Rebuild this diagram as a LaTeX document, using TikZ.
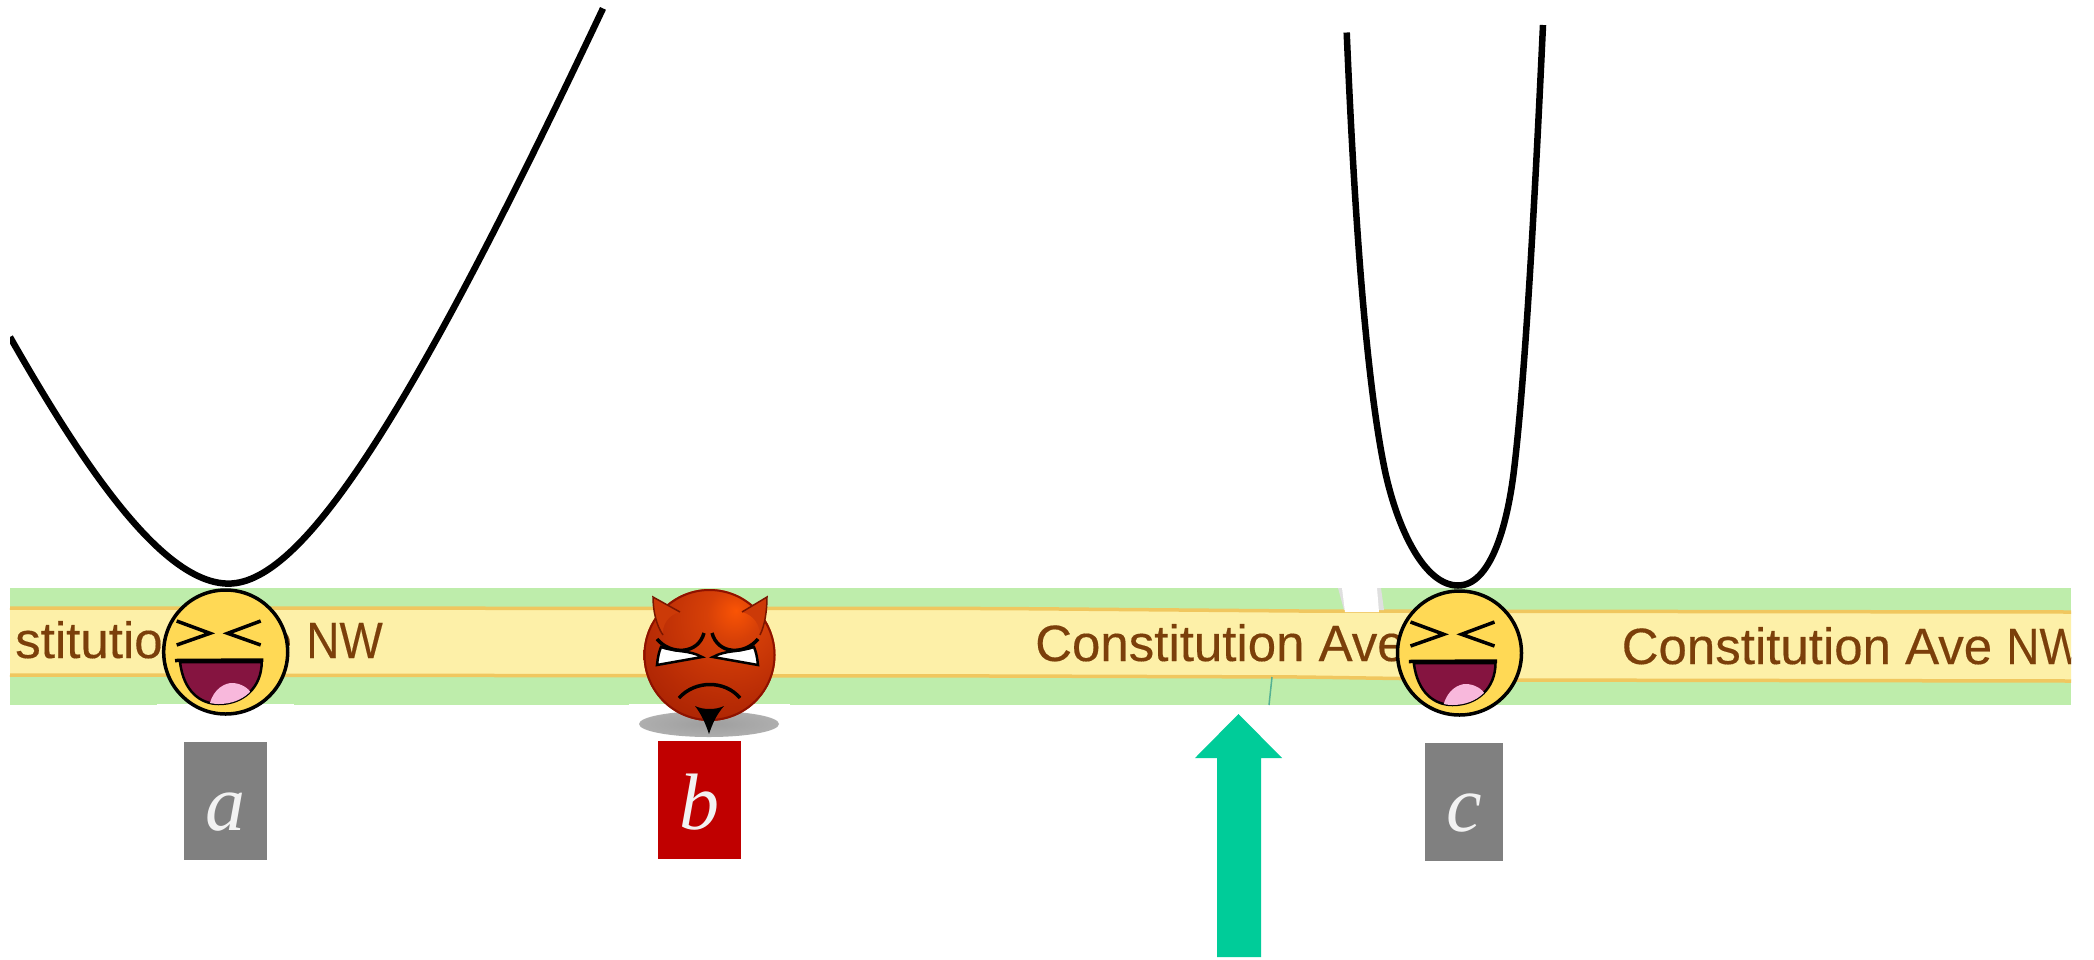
\documentclass[tikz,border=0pt]{standalone}
\usepackage{fontspec}
\setmainfont{Liberation Sans}[FakeBold=0.25]
\newfontfamily\streetfont{Liberation Sans}[FakeBold=0.3]
\newfontfamily\labelserif{Liberation Serif}
\newcommand{\narrownw}{\scalebox{0.9}[1]{NW}}
\definecolor{roadgreen}{HTML}{BEEDAB}
\definecolor{roadyellow}{HTML}{FDF0A8}
\definecolor{roadedge}{HTML}{F0C75F}
\definecolor{streettext}{HTML}{7B3F0A}
\definecolor{facegold}{HTML}{FFD955}
\definecolor{mouthred}{HTML}{851440}
\definecolor{tonguepink}{HTML}{F8B8DC}
\definecolor{arrowgreen}{HTML}{00CC99}
\definecolor{darkred}{HTML}{C00000}
\definecolor{boxgray}{HTML}{808080}
\definecolor{labelwhite}{HTML}{F2F2F2}
\definecolor{hornfill}{HTML}{CC3A08}
\definecolor{horndark}{HTML}{7A1600}
\definecolor{ringdark}{HTML}{8E1200}
\pgfdeclareradialshading{devilball}{\pgfpoint{10bp}{17bp}}{rgb(0bp)=(0.98,0.33,0.02);rgb(10bp)=(0.84,0.25,0.03);rgb(30bp)=(0.72,0.17,0.02);rgb(60bp)=(0.55,0.07,0);rgb(100bp)=(0.55,0.07,0)}
\pgfdeclareradialshading{softshadow}{\pgfpoint{0bp}{0bp}}{rgb(0bp)=(0.62,0.62,0.62);rgb(24bp)=(0.68,0.68,0.68);rgb(38bp)=(0.84,0.84,0.84);rgb(50bp)=(1,1,1);rgb(100bp)=(1,1,1)}
\tikzset{
  streetname/.style={anchor=base west,inner sep=0pt,text=streettext,font=\streetfont\fontsize{51}{51}\selectfont},
  labelbox/.style={inner sep=0pt,text=labelwhite,text height=58pt,text depth=0pt,font=\labelserif\itshape\fontsize{80}{80}\selectfont},
  curveline/.style={line width=6.5pt,black},
  laughface/.pic={
    \fill[white] (-69,51.7) rectangle (68,53);
    \draw[fill=facegold,line width=3.5pt] (0,0) circle (62);
    \draw[line width=3.5pt] (-49,-31) -- (-15.7,-18.7) -- (-49,-7);
    \draw[line width=3.5pt] (35,-31) -- (2,-18.7) -- (35,-7);
    \draw[fill=mouthred,line width=2.5pt] (-45.7,10) .. controls (-42,40) and (-25,52) .. (-7,52) .. controls (18,52) and (36,35) .. (36,10) -- cycle;
    \begin{scope}
      \clip (-45.7,10) .. controls (-42,40) and (-25,52) .. (-7,52) .. controls (18,52) and (36,35) .. (36,10) -- cycle;
      \fill[tonguepink] (-16,52) .. controls (-12,36) and (0,31) .. (6,31) .. controls (15,31) and (23,36) .. (26,42) -- (26,60) -- (-16,60) -- cycle;
    \end{scope}
    \draw[line width=3.5pt] (-50.7,8.5) -- (37.7,8);
  }
}
\begin{document}
\begin{tikzpicture}[x=1pt,y=-1pt]
\useasboundingbox[fill=white] (0,0) rectangle (2094,959);
% road
\fill[roadgreen] (10,588) rectangle (2071,705);
\fill[roadyellow] (10,608) -- (1000,608.5) -- (1300,611) -- (2071,612) -- (2071,681) -- (1500,680) -- (1300,677) -- (1000,676) -- (10,675) -- cycle;
\draw[roadedge,line width=3.5pt] (10,608) -- (1000,608.5) -- (1300,611) -- (2071,612);
\draw[roadedge,line width=3.5pt] (10,675) -- (1000,676) -- (1300,677) -- (1500,680) -- (2071,681);
% cross path and thin stream
\fill[gray!25] (1338,588) -- (1381,588) -- (1384,610) -- (1344,610) -- cycle;
\fill[white] (1342,588) -- (1377,588) -- (1379,612) -- (1345,612) -- cycle;
\draw[teal!55!roadgreen,line width=1.5pt] (1272,677) -- (1269,705);
% street names
\begin{scope}
\clip (13,588) rectangle (2071,705);
\node[streetname] (name1) at (-78.5,658) {Constitution Ave \narrownw};
\node[streetname] (name2) at (1035,661) {Constitution Ave};
\node[streetname] (name3) at (1621.5,664) {Constitution Ave \narrownw};
\end{scope}
% curves
\begin{scope}
\clip (10,0) rectangle (2094,959);
\draw[curveline] (10,337) .. controls (88.8,475.6) and (165,583.6) .. (228.6,583.6) .. controls (305,583.6) and (415.8,404.4) .. (603,8.4);
\end{scope}
\draw[curveline] (1346.7,32.5) .. controls (1353,182) and (1364,371) .. (1385,471) .. controls (1398,531) and (1425,585.5) .. (1458,585.5) .. controls (1490,585.5) and (1507,528) .. (1514,470) .. controls (1526,370) and (1536,175) .. (1543,25);
% laughing faces
\pic at (225.7,652) {laughface};
\pic at (1459.5,653) {laughface};
% devil
\fill[white] (629,703.7) rectangle (790,706);
\shade[shading=softshadow] (709,724) ellipse (70 and 13);
\fill[hornfill] (653,597) -- (680,612) -- (690,640) -- (663,640) -- cycle;
\fill[hornfill] (767,597) -- (742,612) -- (730,640) -- (760,640) -- cycle;
\shade[shading=devilball] (709.5,655) circle (66);
\draw[ringdark,line width=2pt] (709.5,655) circle (65);
\fill[hornfill] (653,597) -- (680,612) .. controls (668,615) and (662,625) .. (663,635) .. controls (656,625) and (653,610) .. (653,597);
\fill[hornfill] (767,597) -- (742,612) .. controls (754,615) and (760,625) .. (760,635) .. controls (765,625) and (767,610) .. (767,597);
\draw[horndark,line width=1.5pt] (663,635) .. controls (656,625) and (653,610) .. (653,597) -- (680,612);
\draw[horndark,line width=1.5pt] (760,635) .. controls (765,625) and (767,610) .. (767,597) -- (742,612);
\draw[fill=white,line width=2.5pt] (657,665) .. controls (658,656) and (659,652) .. (661,647) .. controls (675,652) and (690,650) .. (702,657) -- cycle;
\draw[fill=white,line width=2.5pt] (758,665) .. controls (757,656) and (756,652) .. (754,647) .. controls (740,652) and (725,650) .. (713,657) -- cycle;
\draw[line width=3.5pt] (657,639) .. controls (670,655) and (698,655) .. (704,633);
\draw[line width=3.5pt] (758,639) .. controls (745,655) and (718,655) .. (712,633);
\draw[line width=3.5pt] (679,698) .. controls (695,680) and (725,680) .. (740,698);
\fill[black] (695,706) .. controls (703,710) and (716,710) .. (724,706) .. controls (716,715) and (712,725) .. (709,734) .. controls (706,725) and (702,715) .. (695,706) -- cycle;
% labels
\node[labelbox,fill=boxgray,minimum width=83pt,minimum height=118pt] (la) at (225.5,801) {a};
\node[labelbox,fill=darkred,minimum width=83pt,minimum height=118pt] (lb) at (699.5,800) {b};
\node[labelbox,fill=boxgray,minimum width=78pt,minimum height=118pt] (lc) at (1464,802) {c};
% arrow
\fill[arrowgreen] (1238.5,714) -- (1282,758) -- (1261,758) -- (1261,957) -- (1217,957) -- (1217,758) -- (1195,758) -- cycle;
\end{tikzpicture}
\end{document}
